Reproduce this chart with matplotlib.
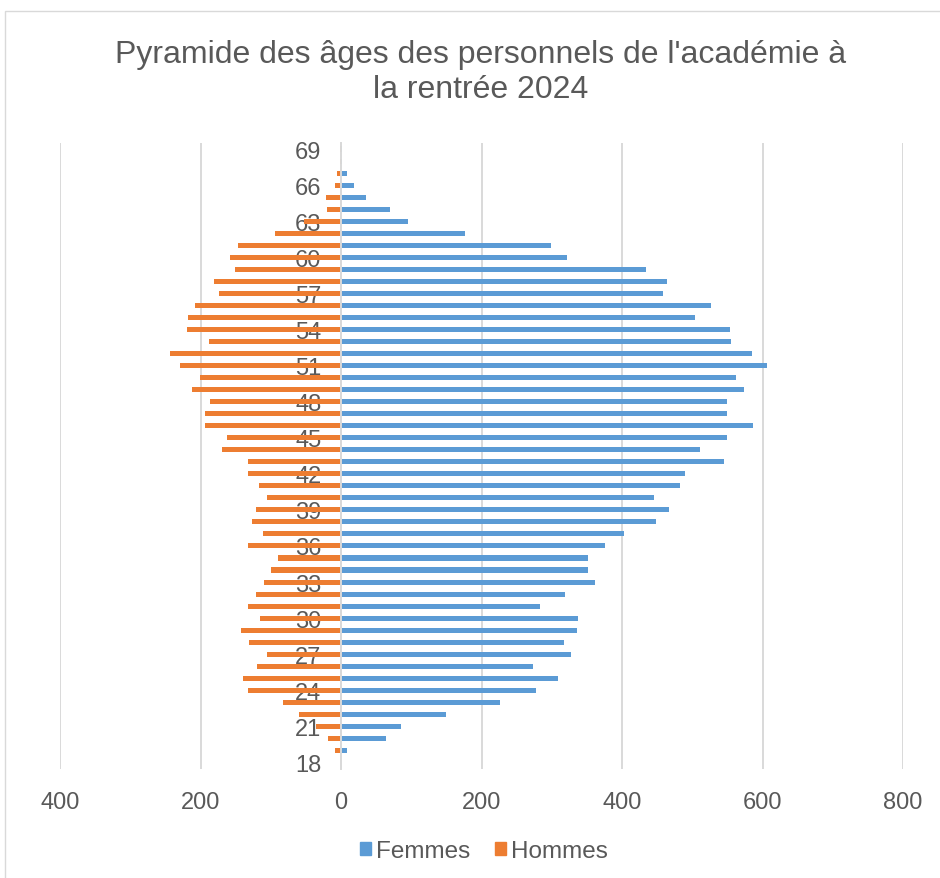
import matplotlib
matplotlib.use('Agg')
import matplotlib.pyplot as plt
from matplotlib.patches import Patch, Rectangle

# ---- data (ages 69 -> 18) ----
ages = list(range(69, 17, -1))
femmes = [2, 2, 9, 18, 35, 70, 96, 177, 299, 321,
          434, 464, 459, 527, 504, 554, 555, 585, 606, 562,
          574, 549, 549, 587, 550, 511, 545, 490, 483, 446,
          467, 448, 403, 376, 351, 352, 361, 319, 283, 338,
          336, 318, 328, 274, 309, 278, 227, 149, 85, 64,
          9, 0]
hommes = [1, 1, 5, 8, 21, 20, 52, 94, 147, 158,
          151, 181, 173, 208, 218, 219, 188, 244, 229, 201,
          212, 186, 194, 193, 162, 170, 132, 132, 117, 105,
          121, 127, 111, 133, 89, 100, 109, 121, 132, 115,
          142, 131, 105, 120, 140, 133, 82, 60, 35, 19,
          8, 0]
series_names = ["Femmes", "Hommes"]
title = "Pyramide des âges des personnels de l'académie à\nla rentrée 2024"
x_ticks = [-400, -200, 0, 200, 400, 600, 800]
y_ticks = list(range(69, 17, -3))

BLUE = '#5B9BD5'
ORANGE = '#ED7D31'
GRID = '#D9D9D9'
TXT = '#595959'

plt.rcParams['font.family'] = ['Liberation Sans', 'DejaVu Sans']

fig = plt.figure(figsize=(9.4, 8.79), dpi=100)
ax = fig.add_axes([60/940, 1-769.5/879, (903-60)/940, (769.5-144)/879])

ax.barh(ages, femmes, height=0.42, color=BLUE, label=series_names[0], zorder=2)
ax.barh(ages, [-h for h in hommes], height=0.42, color=ORANGE, label=series_names[1], zorder=2)

ax.set_xlim(-400, 800)
ax.set_ylim(17.5, 69.5)
ax.set_xticks(x_ticks)
ax.set_xticklabels([str(abs(t)) for t in x_ticks])
ax.set_yticks(y_ticks)
ax.set_yticklabels([str(a) for a in y_ticks])
ax.grid(axis='x', color=GRID, lw=1.4, zorder=0)
ax.set_axisbelow(True)

for s in ['top', 'right', 'bottom']:
    ax.spines[s].set_visible(False)
ax.spines['left'].set_position(('data', 0))
ax.spines['left'].set_color(GRID)
ax.spines['left'].set_linewidth(1.4)
ax.spines['left'].set_zorder(3)

ax.tick_params(axis='both', length=0, colors=TXT, labelsize=17)
ax.tick_params(axis='y', pad=14)
ax.tick_params(axis='x', pad=16)

fig.text(481/940, 1-40/879, title, ha='center', va='top', fontsize=23,
         color=TXT, linespacing=1.2)

handles = [Patch(color=BLUE, label=series_names[0]),
           Patch(color=ORANGE, label=series_names[1])]
fig.legend(handles=handles, loc='center', bbox_to_anchor=(484/940, 1-852/879),
           ncol=2, frameon=False, fontsize=17.5, handlelength=0.45,
           handleheight=0.45, handletextpad=0.2, columnspacing=1.0,
           labelcolor=TXT)

fig.patches.append(Rectangle((5/940, -0.1), 1.2, 1-12/879+0.1,
                             transform=fig.transFigure, fill=False,
                             ec=GRID, lw=1))

fig.savefig('out.png', dpi=100)
